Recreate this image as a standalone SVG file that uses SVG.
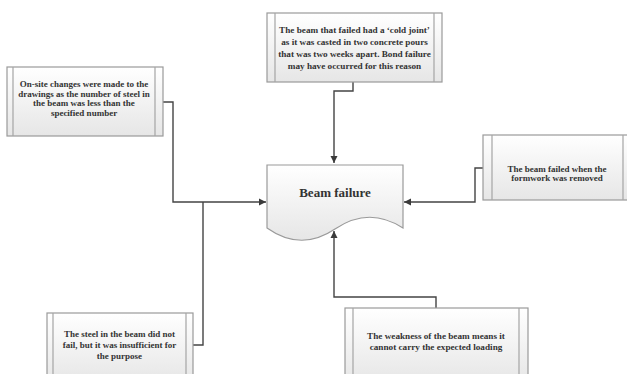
<svg xmlns="http://www.w3.org/2000/svg" width="627" height="374" viewBox="0 0 627 374">
<defs>
<linearGradient id="g" x1="0" y1="0" x2="0" y2="1">
<stop offset="0" stop-color="#ffffff"/>
<stop offset="1" stop-color="#e6e6e6"/>
</linearGradient>
<marker id="arr" markerWidth="8" markerHeight="8" refX="7" refY="4" orient="auto" markerUnits="userSpaceOnUse">
<path d="M0,0.5 L7,4 L0,7.5 Z" fill="#3a3a3a"/>
</marker>
<style>
.box{fill:url(#g);stroke:#9a9a9a;stroke-width:1.2}
.in{stroke:#a5a5a5;stroke-width:1.2;fill:none}
.t{font-family:"Liberation Serif","Times New Roman",serif;font-weight:bold;fill:#333;text-anchor:middle}
.c{fill:none;stroke:#444;stroke-width:1.4}
</style>
</defs>
<rect width="627" height="374" fill="#ffffff"/>
<g id="connectors">
<path class="c" d="M353,82 V91 H334 V163" marker-end="url(#arr)"/>
<path class="c" d="M163,102 H173 V202 H266" marker-end="url(#arr)"/>
<path class="c" d="M193,345 H203 V202"/>
<path class="c" d="M483,168 H475 V202 H404" marker-end="url(#arr)"/>
<path class="c" d="M436,308 V297 H334 V231" marker-end="url(#arr)"/>
</g>
<g id="top">
<rect class="box" x="267" y="13" width="175" height="69"/>
<path class="in" d="M275,13 V82 M434,13 V82"/>
<text class="t" font-size="9.2"><tspan x="354.5" y="33">The beam that failed had a ‘cold joint’</tspan><tspan x="354.5" y="45">as it was casted in two concrete pours</tspan><tspan x="354.5" y="57">that was two weeks apart. Bond failure</tspan><tspan x="354.5" y="69">may have occurred for this reason</tspan></text>
</g>
<g id="left">
<rect class="box" x="7" y="67" width="156" height="69"/>
<path class="in" d="M13,67 V136 M155,67 V136"/>
<text class="t" font-size="9"><tspan x="84" y="87">On-site changes were made to the</tspan><tspan x="84" y="96.5">drawings as the number of steel in</tspan><tspan x="84" y="106">the beam was less than the</tspan><tspan x="84" y="115.5">specified number</tspan></text>
</g>
<g id="right">
<rect class="box" x="483" y="135" width="150" height="65"/>
<path class="in" d="M492,135 V200 M623,135 V200"/>
<text class="t" font-size="9"><tspan x="557" y="172">The beam failed when the</tspan><tspan x="557" y="180.5">formwork was removed</tspan></text>
</g>
<g id="bottom-left">
<rect class="box" x="47" y="313" width="146" height="70"/>
<path class="in" d="M53,313 V383 M186,313 V383"/>
<text class="t" font-size="9"><tspan x="119.5" y="337">The steel in the beam did not</tspan><tspan x="119.5" y="348">fail, but it was insufficient for</tspan><tspan x="119.5" y="359">the purpose</tspan></text>
</g>
<g id="bottom-right">
<rect class="box" x="345" y="308" width="183" height="75"/>
<path class="in" d="M353,308 V383 M519,308 V383"/>
<text class="t" font-size="9.2"><tspan x="436" y="339">The weakness of the beam means it</tspan><tspan x="436" y="350">cannot carry the expected loading</tspan></text>
</g>
<g id="beam-failure">
<path class="box" d="M267,165 H403 V228 Q369,206 335,229 Q301,252 267,228 Z"/>
<text class="t" font-size="13" x="335" y="197">Beam failure</text>
</g>
</svg>
